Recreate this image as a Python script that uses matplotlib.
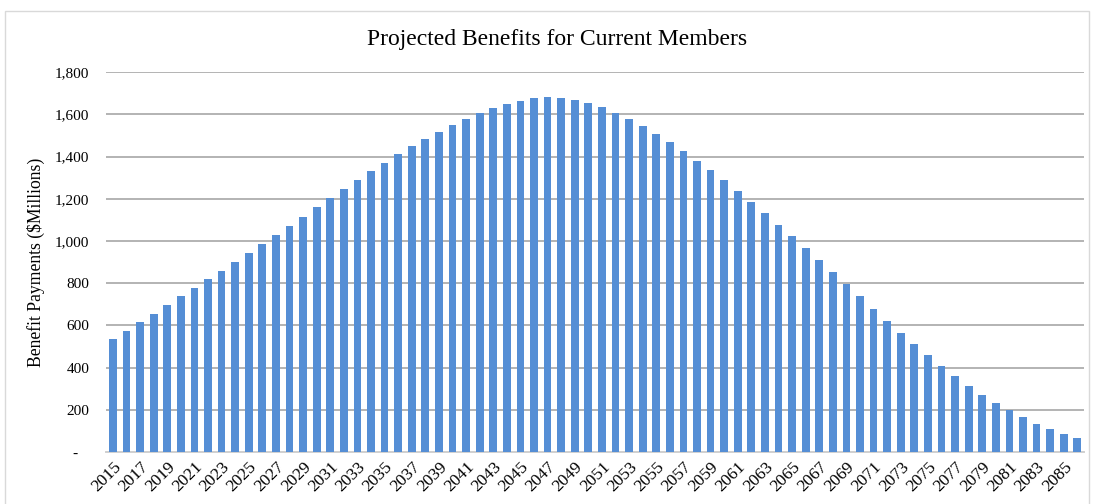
import matplotlib.pyplot as plt
from matplotlib.patches import Rectangle
from matplotlib.ticker import FuncFormatter

plt.rcParams['font.family'] = ['Liberation Serif', 'DejaVu Serif']

years = list(range(2015, 2087))
benefits = [535, 574, 615, 655, 695, 737, 777, 818, 860, 900,
            945, 985, 1030, 1072, 1115, 1160, 1203, 1248, 1290, 1330,
            1370, 1410, 1448, 1483, 1517, 1550, 1580, 1607, 1630, 1650,
            1665, 1675, 1680, 1677, 1668, 1655, 1633, 1608, 1578, 1545,
            1508, 1468, 1425, 1380, 1335, 1287, 1237, 1185, 1133, 1078,
            1023, 967, 910, 853, 795, 738, 678, 621, 566, 512,
            458, 408, 359, 313, 271, 232, 197, 165, 134, 110,
            86, 69]
y_ticks = [0, 200, 400, 600, 800, 1000, 1200, 1400, 1600, 1800]

fig = plt.figure(figsize=(10.94, 5.04), dpi=100)
ax = fig.add_axes([0.097, 0.103, 0.894, 0.754])

ax.bar(years, benefits, width=0.57, color='#558ed5', zorder=3)

ax.set_xlim(years[0] - 0.5, years[-1] + 0.5)
ax.set_ylim(0, 1800)
ax.set_yticks(y_ticks)
ax.yaxis.set_major_formatter(FuncFormatter(lambda v, p: '-   ' if v == 0 else f'{int(v):,}'))
ax.set_xticks(years[::2])
ax.set_xticklabels([str(y) for y in years[::2]], rotation=45, ha='right',
                   rotation_mode='anchor', fontsize=12.5)
ax.tick_params(axis='y', labelsize=11, length=0, pad=12)
ax.tick_params(axis='x', length=0, pad=5)

ax.grid(axis='y', color='#b3b3b3', linewidth=1.4, zorder=0)
for side in ['top', 'right', 'left']:
    ax.spines[side].set_visible(False)
ax.spines['bottom'].set_color('#d0d0d0')
ax.spines['bottom'].set_linewidth(1.4)

ax.set_ylabel('Benefit Payments (\\$Millions)', fontsize=12.7)
ax.yaxis.set_label_coords(-0.063, 0.5)
fig.text(0.509, 0.921, 'Projected Benefits for Current Members',
         ha='center', va='center', fontsize=17)

fig.patches.append(Rectangle((0.005, -0.01), 0.99, 0.988, transform=fig.transFigure,
                             fill=False, edgecolor='#d9d9d9', linewidth=1))

fig.savefig('out.png', dpi=100)
